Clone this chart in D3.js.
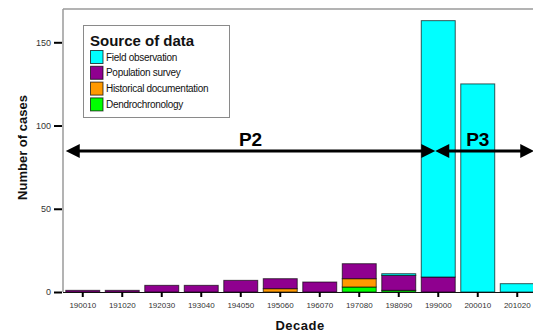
<!DOCTYPE html>
<html>
<head>
<meta charset="utf-8">
<script src="https://cdn.jsdelivr.net/npm/d3@7"></script>
<style>
  html, body { margin: 0; padding: 0; background: #fff; overflow: hidden; }
  svg { display: block; font-family: "Liberation Sans", Arial, sans-serif; }
</style>
</head>
<body>
<svg id="chart" width="533" height="336"></svg>
<script>
// Decades on the x axis
const decades = ["190010", "191020", "192030", "193040", "194050", "195060",
                 "196070", "197080", "198090", "199000", "200010", "201020"];

// Cases per decade, by source of data (stacked bottom to top)
const dendrochronology   = [0, 0, 0, 0, 0, 0, 0, 3, 1, 0, 0, 0];
const historicalDocs     = [0, 0, 0, 0, 0, 2, 0, 5, 0, 0, 0, 0];
const populationSurvey   = [1, 1, 4, 4, 7, 6, 6, 9, 9, 9, 0, 0];
const fieldObservation   = [0, 0, 0, 0, 0, 0, 0, 0, 1, 154, 125, 5];

const yTicks = [0, 50, 100, 150];

// Period annotations along the decade axis
const periods = [
  { label: "P2", from: "190010", fromEdge: "start", to: "199000", toEdge: "mid", labelAt: null },
  { label: "P3", from: "199000", fromEdge: "mid", to: "201020", toEdge: "end", labelAt: "200010" }
];

const sources = [
  { key: "dendro", name: "Dendrochronology", color: "#00ff00", values: dendrochronology },
  { key: "hist", name: "Historical documentation", color: "#ff9900", values: historicalDocs },
  { key: "pop", name: "Population survey", color: "#8f008f", values: populationSurvey },
  { key: "field", name: "Field observation", color: "#00ffff", values: fieldObservation }
];

const svg = d3.select("#chart");

const plotLeft = 63, plotTop = 9, plotBottom = 292, plotRight = 537;

const x = d3.scaleBand()
  .domain(decades)
  .range([plotLeft, plotRight])
  .paddingInner(0.14)
  .paddingOuter(0.07);

const y = d3.scaleLinear()
  .domain([0, 170])
  .range([plotBottom, plotTop]);

// Stack data
const rows = decades.map((d, i) => {
  const r = { decade: d };
  sources.forEach(s => { r[s.key] = s.values[i]; });
  return r;
});
const stack = d3.stack().keys(sources.map(s => s.key));
const series = stack(rows);
const colorOf = Object.fromEntries(sources.map(s => [s.key, s.color]));

// Frame (left and top)
svg.append("line")
  .attr("x1", plotLeft).attr("x2", plotLeft)
  .attr("y1", plotTop).attr("y2", plotBottom)
  .attr("stroke", "#9a9a9a").attr("stroke-width", 1.5);
svg.append("line")
  .attr("x1", plotLeft).attr("x2", plotRight + 5)
  .attr("y1", plotTop).attr("y2", plotTop)
  .attr("stroke", "#9a9a9a").attr("stroke-width", 1.5);

// Bars
svg.append("g")
  .selectAll("g")
  .data(series)
  .join("g")
  .attr("fill", d => colorOf[d.key])
  .selectAll("rect")
  .data(d => d.filter(p => p[1] - p[0] > 0))
  .join("rect")
  .attr("x", p => x(p.data.decade))
  .attr("width", x.bandwidth())
  .attr("y", p => y(p[1]))
  .attr("height", p => y(p[0]) - y(p[1]))
  .attr("stroke", "#000")
  .attr("stroke-opacity", 0.65)
  .attr("stroke-width", 1);

// Y axis
const yAxis = svg.append("g")
  .attr("transform", `translate(${plotLeft - 1},0)`)
  .call(d3.axisLeft(y).tickValues(yTicks).tickSize(8).tickPadding(3));
yAxis.select(".domain").remove();
yAxis.selectAll(".tick line").attr("stroke", "#000").attr("stroke-width", 2);
yAxis.selectAll(".tick text")
  .attr("font-size", 9).attr("fill", "#333")
  .attr("font-family", "Liberation Sans, Arial, sans-serif");

// X axis
const xAxis = svg.append("g")
  .attr("transform", `translate(0,${plotBottom})`)
  .call(d3.axisBottom(x).tickSize(5).tickPadding(5).tickSizeOuter(0));
xAxis.select(".domain")
  .attr("stroke", "#111").attr("stroke-width", 1.2)
  .attr("d", `M${plotLeft},0.5H${plotRight}`);
xAxis.selectAll(".tick line").attr("stroke", "#000").attr("stroke-width", 2);
xAxis.selectAll(".tick text")
  .attr("font-size", 8).attr("fill", "#333")
  .attr("font-family", "Liberation Sans, Arial, sans-serif");

// Axis titles
svg.append("text")
  .attr("x", (plotLeft + plotRight) / 2)
  .attr("y", 330)
  .attr("text-anchor", "middle")
  .attr("font-size", 13).attr("font-weight", "bold")
  .attr("letter-spacing", 0.5)
  .attr("fill", "#111")
  .text("Decade");

svg.append("text")
  .attr("transform", `translate(27,${(plotTop + plotBottom) / 2 - 3}) rotate(-90)`)
  .attr("text-anchor", "middle")
  .attr("font-size", 13).attr("font-weight", "bold")
  .attr("fill", "#111")
  .text("Number of cases");

// Period arrows
const arrowY = 151, headLen = 14, headHalf = 7;
function edgeX(decade, edge) {
  if (edge === "start") return x(decade);
  if (edge === "end") return x(decade) + x.bandwidth();
  return x(decade) + x.bandwidth() / 2 - 3;
}
const ann = svg.append("g");
periods.forEach(p => {
  const x0 = edgeX(p.from, p.fromEdge);
  const x1 = edgeX(p.to, p.toEdge);
  ann.append("line")
    .attr("x1", x0 + headLen - 1).attr("x2", x1 - headLen + 1)
    .attr("y1", arrowY).attr("y2", arrowY)
    .attr("stroke", "#000").attr("stroke-width", 3);
  ann.append("path")
    .attr("d", `M${x0},${arrowY}L${x0 + headLen},${arrowY - headHalf}L${x0 + headLen},${arrowY + headHalf}Z`)
    .attr("fill", "#000");
  ann.append("path")
    .attr("d", `M${x1},${arrowY}L${x1 - headLen},${arrowY - headHalf}L${x1 - headLen},${arrowY + headHalf}Z`)
    .attr("fill", "#000");
  const lx = p.labelAt ? x(p.labelAt) + x.bandwidth() / 2 : (x0 + x1) / 2;
  ann.append("text")
    .attr("x", lx).attr("y", arrowY - 5)
    .attr("text-anchor", "middle")
    .attr("font-size", 19).attr("font-weight", "bold")
    .attr("fill", "#000")
    .text(p.label);
});

// Legend
const legend = svg.append("g");
legend.append("rect")
  .attr("x", 83.5).attr("y", 25.5).attr("width", 146).attr("height", 92)
  .attr("fill", "#fff").attr("stroke", "#8a8a8a").attr("stroke-width", 1);
legend.append("text")
  .attr("x", 90).attr("y", 46)
  .attr("font-size", 15).attr("font-weight", "bold").attr("fill", "#111")
  .text("Source of data");
const legendOrder = ["field", "pop", "hist", "dendro"];
const legendItems = legendOrder.map(k => sources.find(s => s.key === k));
const li = legend.selectAll("g.item")
  .data(legendItems)
  .join("g")
  .attr("class", "item")
  .attr("transform", (d, i) => `translate(90,${57 + i * 15.8})`);
li.append("rect")
  .attr("x", 0.5).attr("y", -6.5).attr("width", 12.5).attr("height", 13)
  .attr("fill", d => d.color)
  .attr("stroke", "#000").attr("stroke-opacity", 0.7).attr("stroke-width", 1);
li.append("text")
  .attr("x", 16).attr("y", 3.5)
  .attr("font-size", 10).attr("fill", "#111")
  .attr("letter-spacing", -0.3)
  .text(d => d.name);
</script>
</body>
</html>
